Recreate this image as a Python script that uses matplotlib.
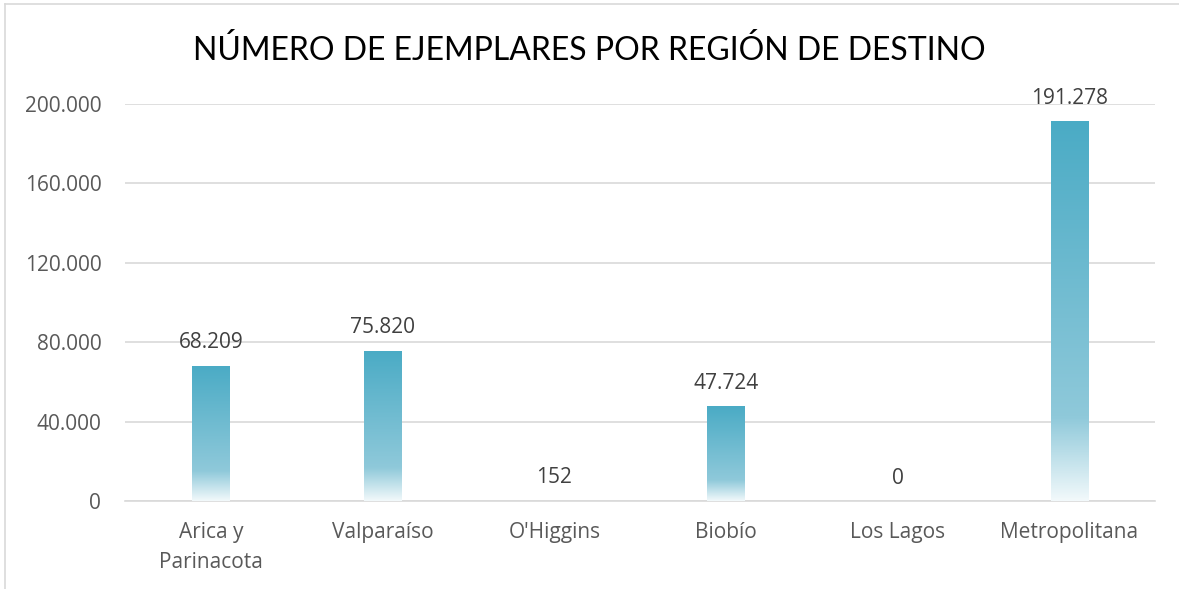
import matplotlib.pyplot as plt
import numpy as np
from matplotlib.colors import LinearSegmentedColormap
from matplotlib.lines import Line2D

regions = ["Arica y\nParinacota", "Valparaíso", "O'Higgins", "Biobío", "Los Lagos", "Metropolitana"]
ejemplares = [68209, 75820, 152, 47724, 0, 191278]
yticks = [0, 40000, 80000, 120000, 160000, 200000]


def fmt(v):
    return f"{v:,.0f}".replace(",", ".")


plt.rcParams['font.family'] = ['Open Sans', 'DejaVu Sans']

fig = plt.figure(figsize=(11.79, 5.89), dpi=100)
ax = fig.add_axes([0.106, 0.149, 0.874, 0.675])

# Excel style gradient: accent teal at top, fading to white at the bottom
grad = LinearSegmentedColormap.from_list(
    "exc", [(0.0, "#f2f9fb"), (0.22, "#8fc9da"), (1.0, "#4aabc5")])

x = np.arange(len(regions))
width = 0.22
bars = ax.bar(x, ejemplares, width=width, color="none", edgecolor="none", zorder=3)
for b in bars:
    h = b.get_height()
    if h <= 0:
        continue
    x0 = b.get_x()
    img = np.linspace(0, 1, 256).reshape(-1, 1)
    im = ax.imshow(img, cmap=grad, origin="lower", aspect="auto",
                   extent=[x0, x0 + b.get_width(), 0, h], zorder=3)
    im.set_clip_path(b)

for xi, v in zip(x, ejemplares):
    ax.annotate(fmt(v), (xi, v), xytext=(0, 9), textcoords="offset points",
                ha="center", va="bottom", fontsize=15, color="#404040")

ax.set_xlim(-0.5, len(regions) - 0.5)
ax.set_ylim(0, 200000)
ax.set_yticks(yticks)
ax.set_yticklabels([fmt(t) for t in yticks], fontsize=15, color="#595959")
ax.set_xticks(x)
ax.set_xticklabels(regions, fontsize=15, color="#595959", linespacing=1.55)
ax.tick_params(axis="both", length=0)
ax.tick_params(axis="x", pad=15)
ax.tick_params(axis="y", pad=17)

ax.grid(axis="y", color="#d9d9d9", linewidth=1.2, zorder=0)
ax.set_axisbelow(True)
for s in ["top", "right", "left"]:
    ax.spines[s].set_visible(False)
ax.spines["bottom"].set_color("#d9d9d9")
ax.spines["bottom"].set_linewidth(1.2)

fig.suptitle("NÚMERO DE EJEMPLARES POR REGIÓN DE DESTINO", fontsize=23,
             family=["Lato", "DejaVu Sans"], color="#000000", y=0.94)

# chart border (partially visible)
fig.add_artist(Line2D([0.0045, 0.0045], [0, 0.993], color="#d9d9d9", lw=1.2))
fig.add_artist(Line2D([0.0045, 1], [0.993, 0.993], color="#d9d9d9", lw=1.2))

fig.savefig("out.png", dpi=100)
